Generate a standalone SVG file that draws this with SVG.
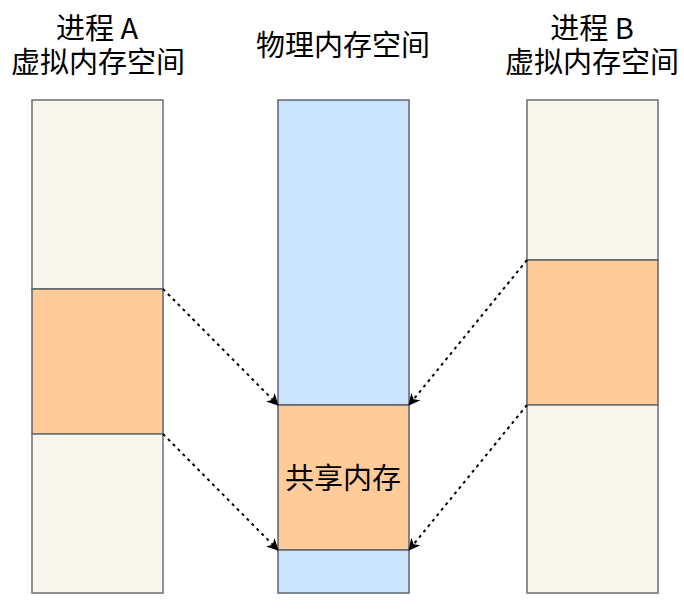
<svg xmlns="http://www.w3.org/2000/svg" width="684" height="615" viewBox="0 0 684 615">
<style>
.t{font-family:"Noto Sans CJK SC","Noto Sans",sans-serif;font-size:29px;fill:#000;text-anchor:middle}
.v{fill:#f9f7ed;stroke:#6b6e73;stroke-width:1.5}
.p{fill:#cce5ff;stroke:#5c6470;stroke-width:1.5}
.s{fill:#ffcc99;stroke:#5f6066;stroke-width:1.5}
.c{stroke:#000;stroke-width:2;stroke-dasharray:3 4;fill:none}
</style>
<defs>
<marker id="ah" viewBox="0 0 12 12" refX="11" refY="6" markerWidth="12" markerHeight="12" markerUnits="userSpaceOnUse" orient="auto">
<path d="M0,0 L12,6 L0,12 L3.5,6 Z" fill="#000"/>
</marker>
</defs>
<g id="titleA"><text class="t" x="97" y="39">进程 A</text><text class="t" x="98" y="73">虚拟内存空间</text></g>
<g id="titleP"><text class="t" x="343" y="56">物理内存空间</text></g>
<g id="titleB"><text class="t" x="592" y="39">进程 B</text><text class="t" x="592" y="73">虚拟内存空间</text></g>
<g id="procA">
<rect class="v" x="32" y="100" width="131" height="189"/>
<rect class="s" x="32" y="289" width="131" height="145"/>
<rect class="v" x="32" y="434" width="131" height="159"/>
</g>
<g id="phys">
<rect class="p" x="278" y="100" width="131" height="305"/>
<rect class="s" x="278" y="405" width="131" height="145"/>
<rect class="p" x="278" y="550" width="131" height="43"/>
<text class="t" x="343" y="489">共享内存</text>
</g>
<g id="procB">
<rect class="v" x="527" y="100" width="131" height="160"/>
<rect class="s" x="527" y="260" width="131" height="145"/>
<rect class="v" x="527" y="405" width="131" height="188"/>
</g>
<g id="connectors">
<path class="c" d="M163,289 L278,405" marker-end="url(#ah)"/>
<path class="c" d="M163,434 L278,550" marker-end="url(#ah)"/>
<path class="c" d="M527,260 L409,405" marker-end="url(#ah)"/>
<path class="c" d="M527,405 L409,550" marker-end="url(#ah)"/>
</g>
</svg>
